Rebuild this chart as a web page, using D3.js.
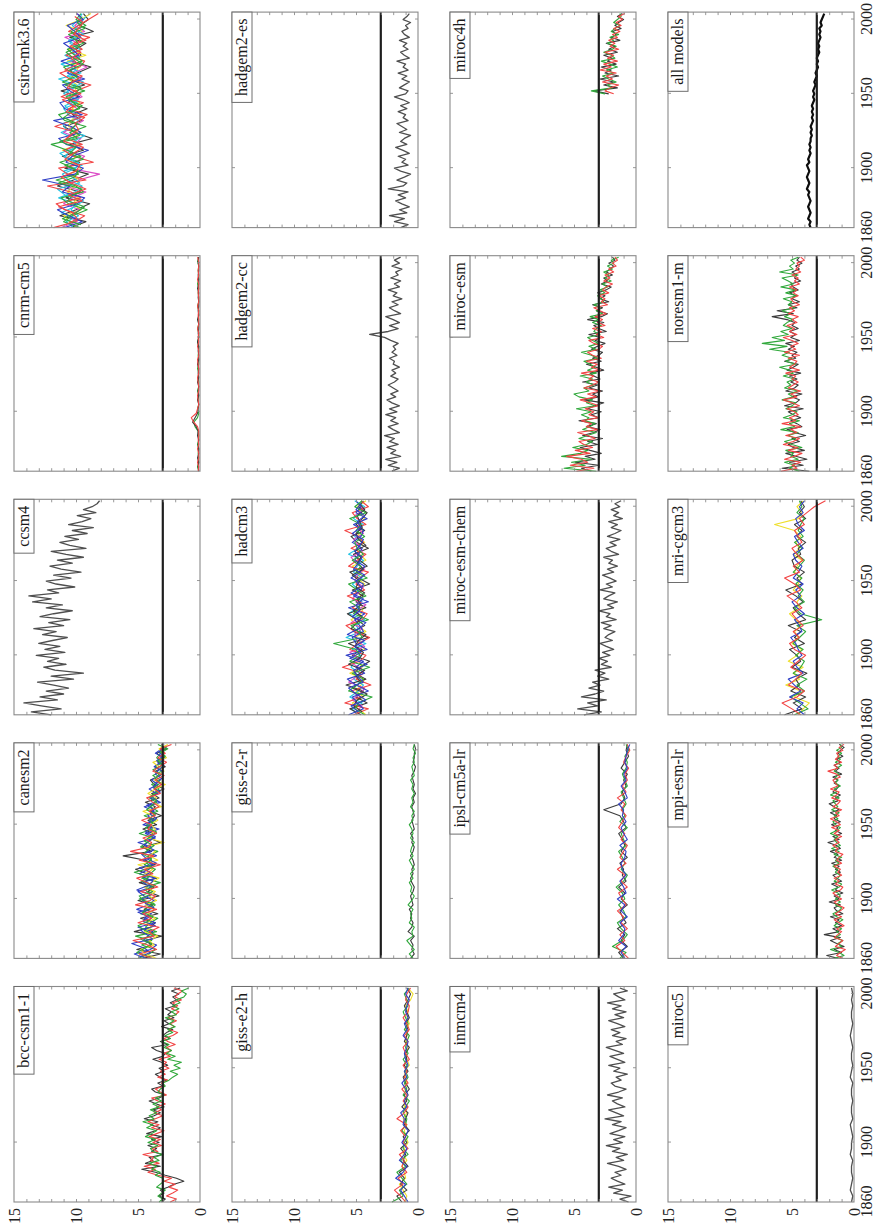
<!DOCTYPE html>
<html>
<head>
<meta charset="utf-8">
<script src="https://cdn.jsdelivr.net/npm/d3@7"></script>
<style>
  html, body { margin: 0; background: #fff; }
  svg { display: block; }
</style>
</head>
<body>
<svg id="fig" width="876" height="1230"></svg>
<script>
// Model names, in reading order of the 4 x 5 grid
const models = [
  "bcc-csm1-1", "canesm2", "ccsm4", "cnrm-cm5", "csiro-mk3.6",
  "giss-e2-h", "giss-e2-r", "hadcm3", "hadgem2-cc", "hadgem2-es",
  "inmcm4", "ipsl-cm5a-lr", "miroc-esm-chem", "miroc-esm", "miroc4h",
  "miroc5", "mpi-esm-lr", "mri-cgcm3", "noresm1-m", "all models"
];
const yearLabels = [1860, 1900, 1950, 2000];
const yearTicks = [1900, 1950, 2000];
const valueLabels = [0, 5, 10, 15];
const threshold = 3;

// ---- ensemble members (value per year: start year, step in years, values) ----
const bccK = [3.1,2.8,3.3,2.9,3.2,2.6,2.1,1.3,1.9,2.8,
  3.6,4.7,3.2,4.4,3.8,4.1,3.0,3.9,3.5,4.2,
  3.3,3.9,3.1,4.3,3.6,3.2,4.0,3.4,4.5,3.7,
  3.2,3.8,2.9,3.5,4.1,3.3,2.8,3.6,3.9,3.0,
  3.4,2.7,3.2,3.6,2.9,3.3,2.6,3.1,3.8,3.0,
  2.8,3.5,3.9,2.6,3.2,2.4,3.0,2.7,2.2,3.1,
  2.5,2.9,2.1,2.6,2.3,2.8,2.0,2.4,1.9,2.2,
  1.7,2.3,1.6];
const bccR = [2.4,1.9,2.7,2.2,1.8,2.5,2.0,2.9,2.3,3.4,
  4.2,3.6,4.5,3.3,4.0,3.7,4.6,3.4,3.9,3.1,
  3.8,3.2,4.1,3.5,2.9,3.9,3.3,4.2,3.6,3.0,
  3.7,3.1,3.5,2.8,3.4,3.9,2.7,3.2,3.6,2.9,
  3.1,2.6,3.4,2.8,3.2,2.5,3.0,2.7,3.3,2.4,
  2.9,2.3,2.7,2.0,2.6,2.9,2.2,1.8,2.5,2.1,
  2.4,1.9,2.6,2.0,1.7,2.3,1.8,2.2,1.5,2.0,
  1.8,1.4,2.1];
const bccG = [3.3,3.0,3.4,3.1,2.8,3.5,3.2,2.9,3.0,3.6,
  3.2,3.9,3.5,4.1,3.3,3.7,3.0,3.8,4.0,3.4,
  4.2,3.6,4.4,3.9,3.5,4.3,3.8,4.6,3.7,4.1,
  3.5,4.0,3.3,3.8,3.1,3.6,2.9,3.4,3.2,2.8,
  3.0,2.5,2.2,1.8,2.4,1.6,2.1,1.5,2.6,2.0,
  2.7,2.3,2.9,2.5,3.1,2.4,2.8,2.2,2.6,2.0,
  2.5,2.1,2.8,1.9,2.3,1.7,2.2,1.6,1.9,1.3,
  1.1,1.5,0.9];

const canK = [4.6,3.2,5.1,3.9,4.4,3.1,5.3,4.0,3.6,4.8,
  3.4,4.5,3.8,5.0,3.3,4.2,3.7,4.9,3.5,4.3,
  5.2,3.6,4.4,6.2,3.9,4.7,3.2,4.1,3.8,4.6,
  3.5,4.2,3.1,4.0,3.6,4.4,3.3,3.9,2.9,3.7,
  4.0,3.2,3.6,2.8,3.4,3.0,3.5,2.7,3.1];
const canR = [3.8,4.9,3.5,4.2,5.4,3.7,4.1,3.3,5.0,3.9,
  4.6,3.5,5.2,4.0,3.6,4.8,3.4,4.3,5.1,3.8,
  4.5,3.2,4.9,3.7,5.6,4.1,3.9,4.6,3.5,4.2,
  3.9,4.7,3.6,4.1,3.3,3.8,4.3,3.2,3.7,3.1,
  3.6,2.9,3.8,3.3,2.7,3.4,2.8,3.2,2.3];
const canG = [5.0,4.1,3.6,4.7,3.9,5.2,3.5,4.4,4.0,3.4,
  4.8,4.1,3.6,4.6,4.9,3.8,4.4,3.2,4.7,4.0,
  3.6,4.5,3.9,4.2,3.4,4.8,4.3,3.7,4.9,3.8,
  4.3,3.6,4.5,3.4,4.0,3.5,4.1,3.7,3.3,3.9,
  3.2,3.8,3.1,3.6,3.0,3.5,3.2,2.6,3.4];
const canB = [4.3,5.3,4.0,3.5,4.6,4.2,3.8,5.0,3.6,4.5,
  3.9,5.1,4.2,3.7,4.5,5.0,3.9,4.6,3.6,4.9,
  4.1,3.8,4.6,3.5,4.3,3.9,5.0,3.6,4.4,3.3,
  4.6,3.8,4.2,3.7,4.5,3.2,4.0,3.5,4.1,3.4,
  3.9,3.3,3.0,3.7,3.2,2.8,3.6,3.1,2.9];
const canY = [3.5,4.4,4.8,3.7,4.1,3.4,4.5,3.9,4.3,3.6,
  4.2,3.7,4.4,3.5,4.1,3.6,4.5,3.9,3.3,4.4,
  3.8,5.0,3.4,4.1,3.6,4.5,2.9,4.2,3.9,3.6,
  4.0,3.4,3.8,4.6,3.1,3.7,3.5,4.2,3.6,2.8,
  3.7,3.4,2.9,3.3,3.8,2.7,3.1,3.3,2.6];
const canB2 = [4.9,4.0,4.5,5.5,3.8,4.3,4.8,3.6,4.6,4.1,
  5.0,3.7,4.4,4.7,3.9,5.1,4.2,3.8,4.6,4.0,
  4.9,3.5,4.3,4.7,3.7,4.5,4.1,3.6,4.4,3.9,
  4.2,3.5,4.0,3.7,4.3,3.4,3.9,3.2,3.8,3.5,
  3.1,3.6,3.3,2.9,3.5,3.0,3.3,2.8];
const canG2 = [4.1,5.1,4.4,3.9,4.8,3.6,4.5,5.0,4.2,3.8,
  4.6,4.3,3.7,4.9,4.0,4.4,3.6,4.7,4.1,5.3,
  3.8,4.3,3.9,4.6,4.2,3.7,4.5,4.0,3.5,4.4,
  3.8,4.1,3.6,4.3,3.9,3.5,4.0,3.4,3.7,3.2,
  3.6,3.3,3.8,3.0,3.4,2.8,3.2,2.7];

const ccsmK = [12.0,13.6,11.2,12.8,14.2,11.5,12.9,11.0,12.4,10.6,
  11.8,13.1,10.2,12.0,9.4,11.7,12.6,10.8,12.3,11.4,
  13.2,10.9,12.5,11.3,13.0,11.9,10.7,12.7,11.6,13.4,
  11.0,12.2,10.5,12.9,11.8,10.3,12.4,11.1,13.5,12.0,
  13.8,11.4,12.3,10.1,11.6,12.4,10.4,11.8,9.6,11.2,
  12.1,10.3,11.5,9.4,10.8,12.0,9.2,10.5,11.3,9.8,
  10.9,9.1,10.3,8.6,10.6,9.5,8.8,9.9,8.4,9.4,
  8.7,8.3,8.1];

const cnrmK = [0.1,0.15,0.1,0.2,0.1,0.1,0.15,0.1,0.2,0.15,
  0.3,0.6,0.4,0.2,0.15,0.1,0.2,0.1,0.15,0.1,
  0.2,0.1,0.15,0.1,0.2,0.1,0.1,0.15,0.1,0.2,
  0.1,0.15,0.1,0.1,0.2,0.1,0.15,0.1,0.1,0.15,
  0.1,0.2,0.1,0.1,0.15,0.1,0.1,0.15,0.1];
const cnrmR = [0.15,0.1,0.2,0.1,0.1,0.2,0.1,0.15,0.1,0.1,
  0.2,0.5,0.7,0.3,0.2,0.1,0.15,0.2,0.1,0.1,
  0.15,0.2,0.1,0.1,0.15,0.2,0.1,0.1,0.2,0.1,
  0.15,0.1,0.2,0.1,0.1,0.15,0.1,0.2,0.1,0.1,
  0.15,0.1,0.1,0.2,0.1,0.15,0.1,0.1,0.2];
const cnrmG = [0.1,0.2,0.1,0.1,0.15,0.1,0.2,0.1,0.1,0.15,
  0.4,0.5,0.2,0.1,0.2,0.1,0.15,0.1,0.2,0.1,
  0.1,0.15,0.1,0.2,0.1,0.1,0.15,0.1,0.1,0.2,
  0.1,0.1,0.2,0.1,0.15,0.1,0.1,0.2,0.1,0.1,
  0.15,0.1,0.2,0.1,0.1,0.15,0.1,0.2,0.1];

const csiroK = [10.4,9.2,11.3,10.0,8.9,10.8,9.6,11.5,10.2,9.0,
  10.9,9.7,11.1,9.4,10.5,8.7,10.1,11.0,9.5,10.3,
  9.1,10.7,9.8,11.2,9.3,10.6,9.9,8.8,10.4,9.6,
  10.0,9.2,10.5,8.6,9.7,9.0,9.4];
const csiroR = [11.8,10.1,9.3,10.9,11.6,9.6,10.4,12.3,9.2,10.7,
  11.4,8.6,10.2,11.0,9.5,10.8,9.9,11.7,10.3,9.1,
  10.6,9.4,11.2,10.0,8.8,10.5,11.3,9.7,9.3,10.8,
  9.5,10.2,8.9,10.6,9.8,9.0,8.2];
const csiroG = [9.7,11.0,10.3,9.1,10.6,11.2,9.4,10.0,11.6,9.8,
  10.2,11.3,9.6,10.7,12.0,9.9,10.5,9.2,10.9,11.4,
  9.7,10.2,10.8,9.3,10.9,9.8,10.3,11.0,9.5,10.1,
  10.7,9.4,9.9,10.4,9.2,10.0,9.6];
const csiroB = [10.9,9.5,10.6,11.5,9.9,9.3,11.1,10.5,12.7,10.1,
  9.4,10.8,10.3,9.0,10.8,11.4,9.6,10.4,11.8,9.5,
  10.9,11.3,9.7,10.5,11.1,9.3,10.7,10.0,11.2,9.8,
  10.3,11.0,9.6,10.1,10.7,9.4,9.9];
const csiroC = [10.2,10.8,9.8,10.4,10.0,11.4,10.1,9.5,10.6,11.1,
  10.0,9.8,10.9,10.4,9.7,10.2,11.2,10.1,9.8,10.6,
  11.0,9.9,10.4,10.7,10.0,11.4,9.6,10.4,10.1,10.9,
  9.6,10.5,10.2,9.7,10.3,9.8,9.5];
const csiroM = [11.2,9.9,10.5,9.7,11.0,10.3,9.2,10.9,9.8,8.1,
  10.6,10.0,9.3,10.8,10.1,9.6,11.0,10.2,9.4,10.7,
  9.9,10.6,9.5,10.1,10.8,9.6,10.2,9.1,10.5,9.7,
  10.4,9.8,10.9,9.3,10.1,9.5,9.9];
const csiroY = [9.9,10.5,11.0,9.6,10.3,9.8,10.7,10.1,9.7,10.5,
  9.6,10.4,10.0,11.1,9.8,10.3,9.6,10.6,10.4,9.9,
  10.3,9.7,10.5,10.1,9.9,10.6,10.0,9.8,10.7,9.2,
  10.6,9.9,10.1,9.5,10.8,9.6,8.8];
const csiroC2 = [10.6,9.8,11.2,10.1,9.4,10.9,11.5,9.7,10.3,11.0,
  9.5,10.6,11.3,9.9,10.2,9.3,10.8,11.1,9.6,10.4,
  10.9,9.8,11.0,10.2,9.4,10.7,10.0,11.2,9.7,10.3,
  9.9,10.6,9.4,10.1,9.6,9.2];
const csiroG2 = [9.6,11.1,10.0,9.3,10.7,10.2,9.5,11.4,10.1,9.8,
  10.9,9.4,10.5,10.0,11.3,9.7,10.4,9.9,11.0,10.3,
  9.5,10.6,10.1,9.6,11.1,9.9,10.5,9.4,10.2,10.8,
  9.7,10.0,10.6,9.3,9.9,9.5];
const csiroR2 = [10.8,9.9,10.3,11.4,9.5,10.6,9.2,10.4,11.2,10.0,
  9.7,10.9,10.2,9.4,11.0,10.5,9.8,10.1,9.3,10.8,
  10.2,11.1,9.6,10.7,10.3,9.5,10.9,9.8,10.4,9.6,
  10.5,9.2,10.2,9.8,9.4,10.1];

const gisshK = [1.3,1.7,0.9,1.4,1.1,1.5,0.8,1.2,1.0,1.4,
  0.9,1.2,0.7,1.1,1.0,0.8,1.3,0.9,1.1,0.7,
  1.0,1.2,0.8,1.1,0.9,1.0,0.7,1.1,0.9,0.8,
  1.0,0.7,0.9,1.1,0.8,0.6,0.9];
const gisshR = [1.0,1.4,1.9,1.2,1.6,0.9,1.3,1.1,1.5,0.8,
  1.2,1.0,1.4,0.9,1.7,1.1,0.8,1.2,0.9,1.3,
  0.8,1.1,0.9,1.2,0.7,1.0,1.2,0.8,1.1,0.7,
  0.9,1.2,0.8,0.7,1.0,0.9,0.6];
const gisshG = [2.1,1.2,1.5,0.9,1.3,1.7,1.0,1.4,0.8,1.2,
  1.1,0.8,1.3,1.0,0.9,1.2,1.0,0.7,1.2,0.9,
  1.1,0.8,1.0,0.9,1.2,0.8,1.0,0.9,0.7,1.1,
  0.8,1.0,1.2,0.8,0.9,1.1,0.7];
const gisshB = [0.8,1.1,1.4,1.0,1.8,1.2,0.9,1.5,1.1,0.9,
  1.3,1.0,0.8,1.2,1.1,1.4,0.9,1.1,0.8,1.0,
  1.3,0.9,1.1,0.8,1.0,1.1,0.9,0.8,1.2,0.9,
  1.1,0.8,1.0,0.9,0.7,1.0,0.8];
const gisshY = [1.1,0.9,1.2,1.5,1.0,1.1,1.3,0.9,1.2,1.1,
  0.8,1.0,1.1,0.9,1.2,0.9,1.1,1.0,0.8,1.1,
  0.9,1.0,1.1,0.7,0.9,1.0,0.8,1.0,0.9,1.0,
  0.7,0.9,0.8,1.0,0.6,0.4,0.8];

const gissrG = [0.4,0.7,0.3,0.6,0.9,0.4,0.5,0.3,0.7,0.5,
  0.6,0.4,0.8,0.5,0.3,0.6,0.5,0.7,0.4,0.6,
  0.3,0.5,0.7,0.4,0.6,0.5,0.3,0.6,0.4,0.5,
  0.7,0.4,0.5,0.3,0.6,0.4,0.5,0.3,0.5,0.4,
  0.6,0.3,0.4,0.5,0.3,0.4,0.2,0.4,0.3];
const gissrK = [0.6,0.3,0.5,0.4,0.6,0.3,0.8,0.5,0.4,0.6,
  0.5,0.7,0.4,0.5,0.6,0.4,0.3,0.5,0.6,0.4,
  0.5,0.3,0.4,0.6,0.4,0.3,0.5,0.4,0.6,0.3,
  0.4,0.5,0.3,0.4,0.5,0.3,0.4,0.2,0.4,0.3,
  0.4,0.5,0.3,0.2,0.4,0.3,0.3,0.2,0.3];

const hadcm3K = [4.6,5.5,4.1,5.0,4.4,5.8,4.2,5.1,4.7,3.9,
  5.3,4.5,5.6,4.0,5.2,4.3,4.9,5.7,4.2,5.0,
  4.4,5.3,3.9,4.8,5.5,4.1,4.7,5.2,4.0,4.9,
  5.4,4.3,5.0,4.5,4.1,4.8,4.4];
const hadcm3R = [5.2,4.0,5.9,4.6,5.4,3.8,5.0,4.4,6.1,4.7,
  4.2,5.5,4.8,3.9,5.1,5.8,4.5,4.1,5.3,4.6,
  5.7,4.3,5.0,4.7,4.0,5.6,4.9,4.2,5.4,4.4,
  4.8,5.9,4.2,4.9,5.3,4.0,4.6];
const hadcm3G = [4.3,5.1,4.8,3.7,5.6,4.9,4.4,5.3,3.9,5.5,
  4.7,5.0,6.8,4.5,4.8,5.4,4.0,5.2,4.7,5.5,
  4.2,4.9,5.6,4.1,5.0,4.6,5.3,4.4,4.9,5.1,
  4.3,5.0,4.6,5.5,4.2,5.1,4.5];
const hadcm3B = [5.6,4.4,4.9,5.3,4.0,5.0,5.7,4.3,5.0,4.4,
  5.8,4.1,5.0,5.3,4.4,4.7,5.1,4.3,5.6,4.0,
  5.2,4.6,4.4,5.4,4.7,4.3,5.1,4.8,4.5,5.3,
  4.6,4.4,5.2,4.1,5.0,4.6,5.0];
const hadcm3C = [4.9,5.3,4.5,5.5,4.8,4.4,5.2,4.7,5.4,5.1,
  4.6,5.3,4.2,5.8,4.6,5.0,4.3,5.6,4.9,4.5,
  5.1,4.8,5.3,4.5,5.2,4.9,4.4,5.6,4.8,4.5,
  5.1,4.8,4.4,5.2,4.7,4.3,5.1];
const hadcm3Y = [4.2,4.8,5.3,4.4,5.0,4.6,4.3,5.5,4.5,4.8,
  5.0,4.3,4.7,5.1,4.2,4.9,5.4,4.6,4.4,4.8,
  4.6,5.1,4.3,5.0,4.5,5.3,4.2,4.7,5.0,4.3,
  4.9,4.5,4.8,4.3,4.6,4.9,4.2];
const hadcm3B2 = [4.8,5.4,4.2,5.0,5.6,4.4,4.9,5.2,4.1,5.5,
  4.6,5.1,4.3,5.7,4.8,4.2,5.3,4.7,5.0,4.4,
  5.4,4.6,5.0,4.3,5.2,4.8,4.5,5.1,4.7,4.4,
  5.3,4.6,4.9,4.3,5.0,4.6];
const hadcm3M2 = [5.0,4.5,5.3,4.7,4.3,5.6,4.9,4.4,5.2,4.8,
  5.5,4.3,4.9,5.1,4.5,5.4,4.6,5.0,4.2,5.3,
  4.8,4.4,5.1,4.9,4.3,5.0,5.4,4.5,4.8,5.2,
  4.4,4.9,4.6,5.1,4.4,4.8];
const hadcm3K2 = [4.5,5.2,4.9,4.1,5.3,4.6,5.0,4.3,5.6,4.7,
  4.4,5.1,4.8,4.2,5.4,4.9,4.5,5.2,4.6,4.9,
  4.3,5.0,4.7,5.3,4.4,4.9,4.6,5.1,4.2,4.8,
  5.0,4.5,4.7,4.9,4.3,4.7];

const hadccK = [2.1,1.5,2.4,1.7,2.6,1.4,2.2,1.8,2.5,1.6,
  2.3,1.9,2.7,1.5,2.0,2.4,1.6,2.2,1.8,2.6,
  1.7,2.3,1.5,2.1,2.5,1.8,2.2,1.6,2.0,2.4,
  1.9,1.6,2.2,1.8,2.1,1.5,2.0,1.9,2.3,1.7,
  2.1,1.8,2.0,1.6,2.2,2.7,3.9,2.4,1.6,2.3,
  1.5,2.0,2.6,1.4,1.9,2.3,1.6,2.1,1.3,2.0,
  1.7,2.4,1.5,1.9,1.4,2.2,1.6,1.8,1.3,2.1,
  1.5,1.9,1.4];
const hadesK = [1.4,0.8,1.9,1.1,2.3,0.9,1.5,0.7,1.3,1.8,
  1.0,1.6,0.8,2.4,1.2,0.9,1.7,1.1,0.6,1.4,
  1.9,0.8,1.3,1.0,1.6,0.7,1.2,1.8,0.9,1.4,
  1.1,0.6,1.5,0.9,1.3,1.7,0.8,1.2,1.0,1.6,
  0.9,1.4,0.7,1.2,1.9,1.0,0.8,1.5,1.1,0.7,
  1.3,0.9,1.6,0.8,1.2,1.0,1.7,0.7,1.1,1.4,
  0.8,1.2,0.9,1.5,0.7,1.1,1.3,0.8,1.0,0.6,
  1.2,0.9,0.7];

const inmK = [0.6,1.3,0.4,1.8,1.1,2.2,0.9,1.5,2.0,1.2,
  1.7,0.8,1.4,2.3,1.0,1.6,0.7,1.9,1.3,2.4,
  1.1,1.8,0.9,2.1,1.4,0.8,1.9,1.2,2.5,1.0,
  1.6,2.2,0.9,1.5,1.9,1.1,2.3,1.4,0.8,1.7,
  2.0,1.2,1.6,0.7,1.8,1.3,2.2,0.9,1.5,2.1,
  1.0,1.7,2.4,1.1,1.6,0.8,1.9,1.3,2.0,0.9,
  1.5,2.2,1.0,1.7,0.8,1.9,1.2,2.3,0.9,1.4,
  1.8,0.7,1.3];

const ipslK = [1.0,1.4,0.7,1.2,0.9,1.5,0.8,1.1,1.3,0.7,
  1.2,0.9,1.4,0.8,1.1,1.0,1.3,0.7,1.2,0.9,
  1.1,1.4,0.8,1.0,1.3,2.6,1.2,0.9,1.1,0.8,
  1.0,0.7,1.2,0.9,0.6,0.8,0.7];
const ipslR = [0.6,1.1,1.6,0.9,1.3,0.7,1.2,1.0,1.5,0.8,
  1.1,1.4,0.7,1.2,0.9,1.5,0.8,1.3,1.0,0.7,
  1.2,0.9,1.4,1.1,0.8,1.2,0.9,1.5,0.8,1.1,
  0.7,0.9,0.6,1.0,0.8,0.5,0.7];
const ipslG = [1.3,0.8,1.9,1.1,0.7,1.2,1.5,0.8,1.0,1.4,
  0.9,1.1,1.6,1.0,0.7,1.2,0.9,1.1,1.4,0.8,
  1.0,1.2,0.7,1.3,0.9,1.1,0.8,1.0,1.2,0.7,
  0.9,1.1,0.8,0.7,0.9,0.6,0.8];
const ipslB = [0.9,1.2,0.8,1.4,1.0,0.9,1.3,0.7,1.2,0.9,
  1.5,0.8,1.0,1.3,0.8,1.1,1.2,0.9,0.8,1.3,
  0.7,1.0,1.2,0.8,1.1,1.0,1.4,0.7,0.9,1.2,
  0.8,1.0,0.7,0.9,0.8,0.7,0.5];

const mecK = [4.2,2.8,4.7,3.1,3.9,2.4,4.4,3.3,2.6,3.8,
  2.9,3.5,2.2,3.1,2.5,3.3,2.0,2.8,2.3,3.0,
  2.1,2.7,1.8,2.4,2.9,1.9,2.5,2.2,1.7,2.6,
  2.0,2.8,1.6,2.4,2.1,3.0,1.8,2.3,1.5,2.6,
  2.2,1.7,2.9,1.9,2.4,1.6,2.1,2.7,1.8,2.3,
  1.5,2.2,1.9,2.6,1.4,2.0,2.4,1.6,2.1,1.3,
  2.3,1.7,1.2,2.0,1.5,2.2,1.1,1.8,1.4,2.0,
  1.3,1.7,1.2];

const mesmK = [3.6,4.4,3.0,4.9,3.3,4.1,2.8,3.7,4.5,3.1,
  3.9,2.7,4.3,3.4,2.9,4.0,3.2,4.6,3.0,3.6,
  2.8,3.9,3.3,2.6,4.2,3.0,3.5,2.7,3.8,3.1,
  4.3,2.9,3.4,3.7,2.6,3.2,4.0,2.8,3.5,3.0,
  2.7,3.6,3.1,2.5,3.3,2.9,3.8,2.4,3.0,3.4,
  2.6,3.9,2.8,2.3,3.2,2.7,3.5,2.2,2.9,2.5,
  3.1,2.4,2.0,2.8,2.3,2.6,1.9,2.4,2.1,1.8,
  2.2,1.7,1.9];
const mesmR = [4.8,3.4,5.3,3.9,4.4,5.6,3.7,4.9,3.5,4.2,
  4.6,3.3,3.9,4.7,3.1,4.0,3.6,4.4,3.0,3.8,
  3.4,4.1,3.0,3.7,4.5,3.2,3.9,2.9,4.2,3.5,
  3.0,3.8,3.4,4.4,2.9,3.6,3.1,4.0,2.8,3.5,
  3.9,3.0,2.7,3.4,3.8,2.6,3.2,2.8,3.5,2.5,
  3.1,2.7,3.3,2.4,2.9,3.4,2.3,2.8,2.5,3.0,
  2.2,2.7,2.4,1.9,2.6,2.1,2.5,1.8,2.2,1.6,
  1.9,1.5,1.7];
const mesmG = [3.2,5.8,4.1,5.2,3.6,6.0,4.5,3.9,5.1,4.0,
  3.5,4.6,3.9,3.2,4.3,3.7,3.3,4.1,3.8,4.4,
  3.6,4.8,3.3,4.0,3.5,4.6,5.0,3.8,4.2,3.4,
  4.0,3.5,4.5,3.2,3.9,3.3,3.7,4.2,3.1,3.6,
  4.4,3.2,3.8,3.0,3.5,3.9,2.9,3.4,3.2,2.8,
  3.5,3.0,3.7,2.7,3.2,2.9,3.4,2.6,2.8,3.1,
  2.5,2.9,2.3,2.7,2.0,2.5,2.2,2.6,1.9,2.3,
  1.8,2.0,1.4];

const m4hK = [2.2,3.4,1.5,2.6,1.8,2.9,1.4,2.5,2.0,2.8,
  1.6,2.3,1.9,2.6,1.5,2.2,1.7,2.4,1.3,2.0,
  1.6,1.9,1.2,1.7,1.4,1.0,1.5,1.1];
const m4hR = [1.8,2.5,2.1,1.4,2.7,1.9,2.4,1.6,2.9,2.0,
  2.6,1.5,2.3,1.8,2.5,1.4,2.1,1.7,2.2,1.5,
  1.9,1.3,1.8,1.2,1.6,1.1,1.4,0.9];
const m4hG = [2.5,3.6,1.9,2.3,1.6,2.2,2.7,1.8,2.4,1.5,
  2.1,2.8,1.7,2.0,2.6,1.9,1.6,2.3,1.8,2.1,
  1.4,2.0,1.7,1.3,1.8,1.5,1.2,1.3];

const m5K = [0.2,0.1,0.3,0.2,0.1,0.2,0.2,0.1,0.3,0.2,
  0.2,0.1,0.2,0.3,0.1,0.2,0.2,0.1,0.2,0.2,
  0.1,0.3,0.2,0.1,0.2,0.2,0.1,0.2,0.3,0.2,
  0.1,0.2,0.2,0.1,0.2,0.1,0.2];

const mpiK = [1.3,2.2,1.0,1.6,0.8,1.4,1.9,1.1,2.4,1.2,
  1.7,1.0,1.5,1.2,1.9,0.9,1.4,1.6,1.1,2.0,
  1.2,1.6,0.9,1.5,1.3,1.8,1.0,1.4,1.7,1.1,
  1.5,1.2,1.8,1.0,1.6,1.3,1.9,1.1,1.4,2.1,
  1.2,1.7,1.0,1.5,1.3,1.8,1.1,1.6,1.4,1.9,
  1.2,1.6,2.0,1.3,1.5,1.1,1.7,1.4,1.2,1.6,
  1.3,1.7,1.0,1.5,1.2,1.6,1.1,1.4,0.9,1.3,
  1.1,0.8,1.2];
const mpiR = [0.9,1.4,1.1,0.7,1.5,1.2,0.9,1.6,1.3,1.0,
  1.4,0.8,1.2,1.6,1.0,1.5,1.1,0.8,1.3,1.6,
  1.0,1.4,1.7,1.1,0.9,1.5,1.2,1.6,1.0,1.3,
  1.1,1.6,1.0,1.4,1.2,0.9,1.5,1.3,1.7,1.2,
  1.5,1.0,1.6,1.2,1.8,1.1,1.4,1.9,1.2,1.5,
  1.0,1.7,1.3,1.1,1.8,1.4,1.2,1.9,1.3,1.5,
  1.7,1.1,1.4,2.1,1.3,1.6,1.0,1.5,1.2,1.4,
  0.9,1.2,0.8];
const mpiG = [1.6,0.8,1.2,1.9,1.0,1.3,0.9,1.5,1.1,1.4,
  1.0,1.6,1.3,0.9,1.4,1.7,1.2,1.0,1.5,1.1,
  1.5,1.1,1.3,1.8,1.2,1.0,1.6,1.3,1.1,1.5,
  1.3,1.7,1.2,1.5,1.0,1.6,1.2,1.8,1.1,1.4,
  1.6,1.3,1.9,1.4,1.1,1.5,1.7,1.3,1.6,1.2,
  1.8,1.3,1.5,1.7,1.2,1.9,1.4,1.6,1.1,1.5,
  1.3,1.5,1.2,1.6,1.4,1.0,1.5,1.1,1.3,1.0,
  1.4,1.0,1.1];

const mriK = [5.6,4.2,4.9,3.9,5.1,4.4,4.7,3.8,5.0,4.3,
  4.6,5.2,4.0,4.8,4.3,5.3,3.9,4.5,4.9,4.1,
  4.7,5.5,4.2,4.6,4.0,4.8,5.0,4.3,4.5,3.9,
  4.6,4.2,4.8,3.9,4.4,4.0,4.3];
const mriR = [4.3,5.0,5.8,4.6,4.0,5.3,4.7,4.2,5.1,4.5,
  3.9,4.8,5.2,4.4,4.9,4.1,4.6,5.0,4.2,4.7,
  5.4,4.3,4.8,5.6,4.4,4.9,4.1,4.6,5.0,4.2,
  4.5,4.8,4.0,4.4,3.8,3.2,2.3];
const mriG = [4.8,3.7,4.4,5.1,4.0,4.6,3.8,4.9,4.3,4.0,
  4.7,4.1,4.9,4.4,3.9,4.6,2.6,4.3,4.8,4.0,
  4.5,4.1,4.7,4.2,4.9,4.4,4.0,4.6,4.2,4.8,
  4.1,4.5,4.3,4.0,4.6,4.2,4.4];
const mriB = [4.0,4.6,4.1,5.2,4.3,4.8,5.3,4.1,4.6,4.9,
  4.2,4.5,4.7,5.1,4.2,4.4,4.8,4.0,4.6,5.0,
  4.3,4.7,4.1,4.9,4.5,4.2,4.7,4.9,4.1,4.5,
  4.8,4.0,4.5,4.7,4.1,4.4,4.0];
const mriY = [4.5,4.1,3.6,4.8,4.3,5.5,4.4,4.9,4.1,5.3,
  4.6,4.2,5.0,4.5,4.8,4.3,4.7,5.2,4.4,4.6,
  4.2,4.9,4.5,4.3,4.8,4.6,4.2,4.9,4.4,4.7,
  4.3,4.8,6.4,4.5,4.2,4.6,4.1];

const norK = [3.6,5.8,4.1,5.2,3.8,4.7,5.5,4.0,4.9,5.3,
  4.4,5.0,3.9,4.8,5.4,4.2,4.6,5.1,4.3,4.9,
  5.3,4.1,5.6,4.7,4.4,5.0,4.2,5.5,4.8,4.5,
  5.1,4.6,5.2,4.3,5.4,4.9,4.5,5.6,4.7,5.0,
  4.6,5.3,4.8,5.5,4.4,5.1,4.7,5.2,4.5,5.0,
  4.8,5.4,6.6,4.9,6.2,4.6,5.3,4.4,5.0,4.7,
  5.2,4.5,4.9,5.1,4.3,4.8,4.6,5.0,4.4,4.7,
  4.2,4.6,4.4];
const norR = [5.9,4.6,5.0,4.3,5.6,4.8,4.2,5.3,4.5,5.7,
  4.9,4.4,5.5,4.6,5.1,4.3,5.8,4.7,5.2,4.5,
  4.8,5.4,4.4,5.0,5.7,4.6,5.1,4.3,5.3,4.9,
  4.5,5.0,4.7,5.5,4.4,5.2,4.8,4.6,5.3,4.4,
  5.6,4.7,5.1,4.5,5.0,5.7,4.6,5.2,4.8,5.4,
  4.6,5.0,4.5,5.3,4.8,5.2,4.4,4.9,5.1,4.5,
  4.9,4.6,5.2,4.4,4.8,4.5,5.0,4.3,4.7,4.4,
  4.6,4.0,4.3];
const norG = [4.4,5.2,4.8,5.6,4.5,5.1,4.9,5.5,4.2,5.0,
  5.6,4.7,5.3,4.5,5.9,4.8,5.2,4.4,5.7,5.0,
  4.6,5.5,5.0,4.7,5.8,4.9,5.3,4.5,5.6,5.1,
  5.4,4.8,5.7,4.9,5.2,6.0,4.7,5.5,5.0,5.8,
  5.2,6.8,5.4,7.4,5.6,6.6,5.3,5.9,5.0,5.7,
  5.4,4.9,5.6,5.1,5.8,4.8,5.3,5.0,5.7,4.6,
  5.5,4.7,5.9,4.9,5.3,5.8,4.5,6.0,4.9,5.2,
  4.8,5.1,4.5];

const allMean = [3.5,3.6,3.5,3.7,3.6,3.5,3.6,3.7,3.6,3.5,
  3.6,3.7,3.6,3.8,3.7,3.6,3.7,3.8,3.7,3.6,
  3.7,3.8,3.6,3.7,3.6,3.5,3.6,3.5,3.6,3.5,
  3.5,3.4,3.5,3.4,3.5,3.4,3.3,3.4,3.3,3.4,
  3.3,3.4,3.3,3.2,3.3,3.2,3.3,3.2,3.1,3.2,
  3.1,3.0,3.1,3.0,2.9,3.0,2.9,3.0,2.9,2.8,
  2.9,2.8,2.9,2.8,2.7,2.8,2.7,2.8,2.6,2.7,
  2.6,2.5,2.4];

// member key -> line colour
const memberColor = {
  k: "#3b3b3b", r: "#f24444", g: "#2fa83a", b: "#2f3fc6",
  c: "#25c4e4", m: "#dc4dc6", y: "#eedf2a", s: "#4f4f4f", a: "#0d0d0d"
};

// runs per model: [member key, first year, step in years, values]
const runs = {
  "bcc-csm1-1": [["k",1860,2,bccK],["r",1860,2,bccR],["g",1860,2,bccG]],
  "canesm2": [["k",1860,3,canK],["g",1860,3,canG],["b",1860,3,canB],["y",1860,3,canY],["b",1861,3,canB2],["g",1861,3,canG2],["r",1860,3,canR]],
  "ccsm4": [["s",1860,2,ccsmK]],
  "cnrm-cm5": [["g",1860,3,cnrmG],["k",1860,3,cnrmK],["r",1860,3,cnrmR]],
  "csiro-mk3.6": [["k",1860,4,csiroK],["y",1860,4,csiroY],["c",1860,4,csiroC],["m",1860,4,csiroM],["c",1862,4,csiroC2],["r",1860,4,csiroR],["g",1860,4,csiroG],["b",1860,4,csiroB],["g",1862,4,csiroG2],["r",1862,4,csiroR2]],
  "giss-e2-h": [["y",1860,4,gisshY],["k",1860,4,gisshK],["g",1860,4,gisshG],["r",1860,4,gisshR],["b",1860,4,gisshB]],
  "giss-e2-r": [["k",1860,3,gissrK],["g",1860,3,gissrG]],
  "hadcm3": [["y",1860,4,hadcm3Y],["c",1860,4,hadcm3C],["k",1860,4,hadcm3K],["m",1862,4,hadcm3M2],["r",1860,4,hadcm3R],["b",1860,4,hadcm3B],["k",1862,4,hadcm3K2],["g",1860,4,hadcm3G],["b",1862,4,hadcm3B2]],
  "hadgem2-cc": [["s",1860,2,hadccK]],
  "hadgem2-es": [["s",1860,2,hadesK]],
  "inmcm4": [["s",1860,2,inmK]],
  "ipsl-cm5a-lr": [["k",1860,4,ipslK],["g",1860,4,ipslG],["r",1860,4,ipslR],["b",1860,4,ipslB]],
  "miroc-esm-chem": [["s",1860,2,mecK]],
  "miroc-esm": [["k",1860,2,mesmK],["g",1860,2,mesmG],["r",1860,2,mesmR]],
  "miroc4h": [["k",1950,2,m4hK],["g",1950,2,m4hG],["r",1950,2,m4hR]],
  "miroc5": [["s",1860,4,m5K]],
  "mpi-esm-lr": [["k",1860,2,mpiK],["g",1860,2,mpiG],["r",1860,2,mpiR]],
  "mri-cgcm3": [["y",1860,4,mriY],["k",1860,4,mriK],["g",1860,4,mriG],["b",1860,4,mriB],["r",1860,4,mriR]],
  "noresm1-m": [["k",1860,2,norK],["g",1860,2,norG],["r",1860,2,norR]],
  "all models": [["a",1860,2,allMean]]
};

// ---- layout: the figure is built landscape, then turned a quarter counter-clockwise ----
const FIG_W = 1230;
const panelW = 215.5, panelH = 186;
const colStep = 243.6, rowStep = 218;
const left0 = 28, top0 = 14;
const nCols = 5, nRows = 4;
const font = "'Liberation Serif', 'Times New Roman', serif";

const x = d3.scaleLinear().domain([1860, 2005]).range([0, panelW]);
const y = d3.scaleLinear().domain([0, 15]).range([panelH, 0]);

const svg = d3.select("#fig");
const fig = svg.append("g").attr("transform", `translate(0,${FIG_W}) rotate(-90)`);

const line = d3.line().x(d => x(d[0])).y(d => y(d[1]));

function styleAxis(sel) {
  sel.select(".domain").remove();
  sel.selectAll(".tick line").attr("stroke", "#8c8c8c").attr("stroke-width", 0.9);
}

models.forEach((name, i) => {
  const r = Math.floor(i / nCols), c = i % nCols;
  const g = fig.append("g")
    .attr("transform", `translate(${left0 + c * colStep},${top0 + r * rowStep})`);

  g.append("rect").attr("width", panelW).attr("height", panelH).attr("fill", "#fff");

  // ensemble member series
  runs[name].forEach(([key, start, step, vals]) => {
    const pts = vals.map((v, j) => [start + j * step, v]).filter(p => p[0] <= 2005);
    g.append("path")
      .datum(pts)
      .attr("fill", "none")
      .attr("stroke", memberColor[key])
      .attr("stroke-width", key === "a" ? 2.2 : (key === "s" ? 1.3 : 1.1))
      .attr("stroke-linejoin", "round")
      .attr("d", line);
  });

  // threshold line
  g.append("line")
    .attr("x1", 0).attr("x2", panelW)
    .attr("y1", y(threshold)).attr("y2", y(threshold))
    .attr("stroke", "#1e1e1e").attr("stroke-width", 2.2);

  // inward ticks on all four sides
  g.append("g").attr("transform", `translate(0,${panelH})`)
    .call(d3.axisTop(x).tickValues(yearTicks).tickSize(3).tickFormat(""))
    .call(styleAxis);
  g.append("g")
    .call(d3.axisBottom(x).tickValues(yearTicks).tickSize(3).tickFormat(""))
    .call(styleAxis);
  g.append("g")
    .call(d3.axisRight(y).tickValues(d3.range(1, 15)).tickSize(3).tickFormat(""))
    .call(styleAxis);
  g.append("g").attr("transform", `translate(${panelW},0)`)
    .call(d3.axisLeft(y).tickValues(d3.range(1, 15)).tickSize(3).tickFormat(""))
    .call(styleAxis);

  // frame
  g.append("rect").attr("width", panelW).attr("height", panelH)
    .attr("fill", "none").attr("stroke", "#8a8a8a").attr("stroke-width", 1.1);

  // value labels on the first column
  if (c === 0) {
    const ax = g.append("g")
      .call(d3.axisLeft(y).tickValues(valueLabels).tickSize(0).tickPadding(6).tickFormat(d3.format("d")));
    ax.select(".domain").remove();
    ax.selectAll("text").attr("font-family", font).attr("font-size", 16).attr("fill", "#222");
  }
  // year labels on the last row
  if (r === nRows - 1) {
    const ax = g.append("g").attr("transform", `translate(0,${panelH})`)
      .call(d3.axisBottom(x).tickValues(yearLabels).tickSize(0).tickPadding(7).tickFormat(d3.format("d")));
    ax.select(".domain").remove();
    ax.selectAll("text").attr("font-family", font).attr("font-size", 16).attr("fill", "#222");
  }

  // model name box in the upper-right corner
  const lab = g.append("g");
  const t = lab.append("text")
    .attr("font-family", font).attr("font-size", 16).attr("fill", "#1a1a1a")
    .text(name);
  const tw = t.node().getComputedTextLength();
  const pad = 6.5, bh = 20, bw = tw + 2 * pad;
  lab.insert("rect", "text")
    .attr("x", panelW - bw).attr("y", 0)
    .attr("width", bw).attr("height", bh)
    .attr("fill", "#fff").attr("stroke", "#6e6e6e").attr("stroke-width", 1);
  t.attr("x", panelW - bw + pad).attr("y", 15);
});
</script>
</body>
</html>
